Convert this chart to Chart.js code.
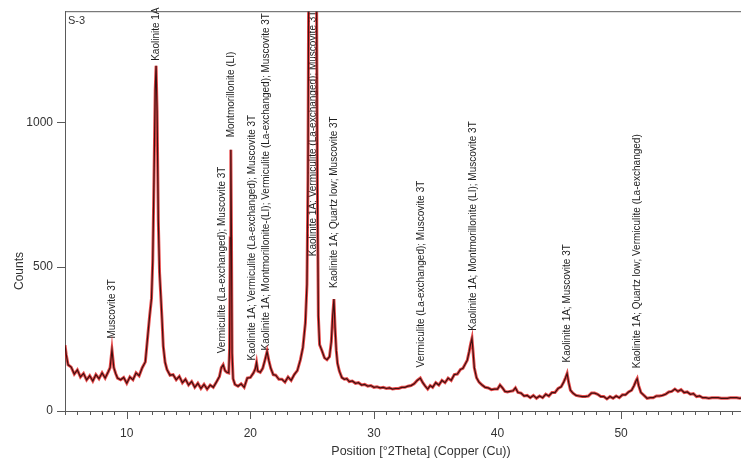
<!DOCTYPE html>
<html lang="en">
<head>
    <meta charset="UTF-8">
    <title>S-3 - XRD pattern</title>
    <script src="https://cdn.jsdelivr.net/npm/chart.js@4"></script>
    <style>
        body, html {
            margin: 0;
            padding: 0;
            background-color: #ffffff;
        }

        .chart-box {
            width: 741px;
            height: 468px;
            position: relative;
        }
    </style>
</head>
<body>
    <div class="chart-box">
        <canvas id="xrdChart"></canvas>
    </div>

    <script>
        // Diffractogram: position (°2Theta) and counts
        const twoTheta = [
            5.00, 5.10, 5.25, 5.50, 5.75, 6.00, 6.25, 6.50, 6.75, 7.00,
            7.25, 7.50, 7.75, 8.00, 8.25, 8.50, 8.65, 8.80, 8.95, 9.10,
            9.25, 9.50, 9.75, 10.00, 10.25, 10.50, 10.75, 11.00, 11.25, 11.50,
            11.70, 11.85, 12.00, 12.10, 12.20, 12.30, 12.37, 12.45, 12.55, 12.65,
            12.75, 12.85, 12.95, 13.10, 13.25, 13.50, 13.75, 14.00, 14.25, 14.50,
            14.75, 15.00, 15.25, 15.50, 15.75, 16.00, 16.25, 16.50, 16.75, 17.00,
            17.25, 17.50, 17.65, 17.80, 17.95, 18.10, 18.25, 18.32, 18.37, 18.42,
            18.47, 18.52, 18.60, 18.75, 19.00, 19.25, 19.50, 19.75, 20.00, 20.25,
            20.40, 20.50, 20.60, 20.80, 21.00, 21.20, 21.35, 21.50, 21.65, 21.85,
            22.05, 22.30, 22.55, 22.80, 23.05, 23.30, 23.55, 23.80, 24.05, 24.25,
            24.45, 24.58, 24.66, 24.72, 25.00, 25.35, 25.42, 25.50, 25.60, 25.80,
            26.00, 26.20, 26.40, 26.55, 26.66, 26.76, 26.85, 26.95, 27.05, 27.20,
            27.40, 27.60, 27.80, 28.00, 28.25, 28.50, 28.75, 29.00, 29.25, 29.50,
            29.75, 30.00, 30.25, 30.50, 30.75, 31.00, 31.25, 31.50, 31.75, 32.00,
            32.25, 32.50, 32.75, 33.00, 33.25, 33.50, 33.75, 33.95, 34.15, 34.35,
            34.55, 34.75, 35.00, 35.25, 35.50, 35.75, 36.00, 36.25, 36.50, 36.75,
            37.00, 37.20, 37.40, 37.55, 37.70, 37.82, 37.93, 38.02, 38.12, 38.30,
            38.50, 38.75, 39.00, 39.25, 39.50, 39.75, 40.00, 40.20, 40.40, 40.60,
            40.80, 41.00, 41.25, 41.45, 41.65, 41.90, 42.15, 42.40, 42.65, 42.90,
            43.15, 43.40, 43.65, 43.90, 44.15, 44.40, 44.65, 44.90, 45.15, 45.35,
            45.50, 45.63, 45.75, 45.90, 46.10, 46.35, 46.60, 46.85, 47.10, 47.35,
            47.60, 47.85, 48.10, 48.35, 48.60, 48.85, 49.10, 49.35, 49.60, 49.85,
            50.10, 50.35, 50.60, 50.85, 51.05, 51.20, 51.30, 51.42, 51.60, 51.85,
            52.10, 52.35, 52.60, 52.85, 53.10, 53.35, 53.60, 53.85, 54.10, 54.35,
            54.60, 54.85, 55.10, 55.35, 55.60, 55.85, 56.10, 56.35, 56.60, 56.85,
            57.10, 57.35, 57.60, 57.85, 58.10, 58.35, 58.60, 58.85, 59.10, 59.35,
            59.60, 59.80
        ];

        const counts = [
            228, 195, 160, 152, 128, 142, 118, 130, 108, 122,
            104, 126, 112, 132, 114, 136, 150, 212, 150, 130,
            114, 108, 116, 96, 118, 108, 132, 122, 150, 170,
            262, 330, 390, 520, 800, 1110, 1196, 1040, 660, 480,
            400, 318, 225, 168, 144, 124, 126, 108, 120, 98,
            110, 90, 102, 82, 96, 78, 92, 76, 90, 82,
            100, 120, 150, 160, 140, 134, 132, 220, 600, 905,
            600, 200, 112, 92, 86, 94, 82, 114, 116, 132,
            146, 168, 138, 134, 148, 180, 206, 174, 148, 126,
            124, 110, 110, 100, 118, 106, 126, 140, 178, 220,
            305, 440, 800, 1500, 1600, 1500, 800, 330, 230, 208,
            184, 178, 188, 240, 330, 388, 290, 210, 165, 138,
            116, 110, 112, 102, 104, 96, 98, 90, 92, 86,
            88, 82, 84, 80, 82, 78, 80, 76, 78, 78,
            82, 82, 86, 88, 94, 106, 114, 98, 86, 76,
            88, 82, 98, 90, 106, 98, 114, 106, 126, 128,
            144, 148, 164, 176, 205, 232, 252, 205, 150, 115,
            100, 90, 82, 80, 74, 76, 76, 90, 80, 68,
            66, 68, 70, 80, 64, 62, 52, 54, 46, 54,
            44, 52, 46, 58, 52, 64, 64, 78, 84, 100,
            115, 130, 100, 72, 62, 54, 52, 50, 50, 52,
            62, 62, 58, 50, 50, 42, 50, 44, 52, 46,
            56, 56, 66, 72, 88, 104, 112, 88, 64, 54,
            44, 46, 46, 52, 52, 54, 58, 66, 68, 76,
            68, 74, 64, 66, 58, 60, 50, 52, 46, 46,
            44, 46, 46, 46, 44, 44, 44, 46, 46, 46,
            44, 46
        ];

        // Phase identifications written above the peaks
        const phaseLabels = [
            'Muscovite 3T',
            'Kaolinite 1A',
            'Vermiculite (La-exchanged); Muscovite 3T',
            'Montmorillonite (LI)',
            'Kaolinite 1A; Vermiculite (La-exchanged); Muscovite 3T',
            'Kaolinite 1A; Montmorillonite-(LI); Vermiculite (La-exchanged); Muscovite 3T',
            'Kaolinite 1A; Vermiculite (La-exchanged); Muscovite 3T',
            'Kaolinite 1A; Quartz low; Muscovite 3T',
            'Vermiculite (La-exchanged); Muscovite 3T',
            'Kaolinite 1A; Montmorillonite (LI); Muscovite 3T',
            'Kaolinite 1A; Muscovite 3T',
            'Kaolinite 1A; Quartz low; Vermiculite (La-exchanged)'
        ];
        const labelTheta = [8.79, 12.35, 17.70, 18.45, 20.12, 21.28, 25.06, 26.78, 33.82, 38.00, 45.60, 51.30];
        const labelCounts = [251, 1213, 200, 948, 175, 210, 536, 426, 151, 278, 168, 148];

        const yTicks = [0, 500, 1000];
        const sampleName = 'S-3';
        const xTitle = 'Position [°2Theta] (Copper (Cu))';
        const yTitle = 'Counts';

        const pattern = twoTheta.map((t, i) => ({ x: t, y: counts[i] }));

        const textFont = '"Liberation Sans", Arial, sans-serif';

        // peak labels go under the trace, so the big peak crosses its label
        const peakLabels = {
            id: 'peakLabels',
            beforeDatasetsDraw(chart) {
                const { ctx, scales: { x, y } } = chart;
                ctx.save();
                ctx.fillStyle = '#1e1e1e';
                ctx.font = '10px ' + textFont;
                ctx.textAlign = 'left';
                ctx.textBaseline = 'middle';
                phaseLabels.forEach((txt, i) => {
                    ctx.save();
                    ctx.translate(Math.round(x.getPixelForValue(labelTheta[i])), y.getPixelForValue(labelCounts[i]));
                    ctx.rotate(-Math.PI / 2);
                    ctx.fillText(txt, 0, 0);
                    ctx.restore();
                });
                ctx.restore();
            }
        };

        const frame = {
            id: 'frame',
            afterDraw(chart) {
                const { ctx, chartArea: a, scales: { x, y } } = chart;
                ctx.save();
                ctx.strokeStyle = '#5a5a5a';
                ctx.lineWidth = 1;
                ctx.beginPath();
                ctx.moveTo(a.left, a.top + 0.5);
                ctx.lineTo(a.right, a.top + 0.5);
                x.ticks.forEach(t => {
                    const px = Math.round(x.getPixelForValue(t.value)) + 0.5;
                    const len = t.value % 10 === 0 ? 8 : 4;
                    ctx.moveTo(px, a.bottom);
                    ctx.lineTo(px, a.bottom + len);
                });
                y.ticks.forEach(t => {
                    const py = Math.round(y.getPixelForValue(t.value)) + 0.5;
                    ctx.moveTo(a.left - 8, py);
                    ctx.lineTo(a.left, py);
                });
                ctx.stroke();

                ctx.fillStyle = '#333';
                ctx.font = '11px ' + textFont;
                ctx.textAlign = 'left';
                ctx.textBaseline = 'top';
                ctx.fillText(sampleName, a.left + 3, a.top + 4);

                ctx.font = '12.5px ' + textFont;
                ctx.textAlign = 'center';
                ctx.textBaseline = 'middle';
                ctx.fillText(xTitle, 421, 452);

                ctx.save();
                ctx.translate(20, 271);
                ctx.rotate(-Math.PI / 2);
                ctx.font = '12px ' + textFont;
                ctx.fillText(yTitle, 0, 0);
                ctx.restore();
                ctx.restore();
            }
        };

        new Chart(document.getElementById('xrdChart').getContext('2d'), {
            type: 'line',
            data: {
                datasets: [{
                    data: pattern,
                    borderColor: '#3f1010',
                    borderWidth: 1.2,
                    pointRadius: 0,
                    tension: 0
                }, {
                    data: pattern,
                    borderColor: 'rgba(226, 30, 30, 0.8)',
                    borderWidth: 3,
                    pointRadius: 0,
                    tension: 0
                }]
            },
            options: {
                responsive: true,
                maintainAspectRatio: false,
                animation: false,
                layout: {
                    padding: { top: 8, left: 0, right: 0, bottom: 0 }
                },
                plugins: {
                    legend: { display: false },
                    tooltip: { enabled: false }
                },
                scales: {
                    x: {
                        type: 'linear',
                        min: 5,
                        max: 59.7,
                        border: { color: '#5a5a5a' },
                        grid: {
                            drawOnChartArea: false,
                            tickColor: 'transparent',
                            tickLength: 8
                        },
                        ticks: {
                            autoSkip: false,
                            maxRotation: 0,
                            padding: 7,
                            color: '#333',
                            font: { family: textFont, size: 12 },
                            callback: v => v % 10 === 0 ? String(v) : ''
                        },
                        afterBuildTicks: scale => {
                            const ticks = [];
                            for (let v = 5; v <= 59; v++) ticks.push({ value: v });
                            scale.ticks = ticks;
                        },
                        afterFit: scale => { scale.height = 57; }
                    },
                    y: {
                        min: 0,
                        max: 1385,
                        border: { color: '#5a5a5a' },
                        grid: {
                            drawOnChartArea: false,
                            tickColor: 'transparent',
                            tickLength: 8
                        },
                        ticks: {
                            padding: 4,
                            color: '#333',
                            font: { family: textFont, size: 12 },
                            callback: v => String(v)
                        },
                        afterBuildTicks: scale => {
                            scale.ticks = yTicks.map(v => ({ value: v }));
                        },
                        afterFit: scale => { scale.width = 65; }
                    }
                }
            },
            plugins: [peakLabels, frame]
        });
    </script>
</body>
</html>
